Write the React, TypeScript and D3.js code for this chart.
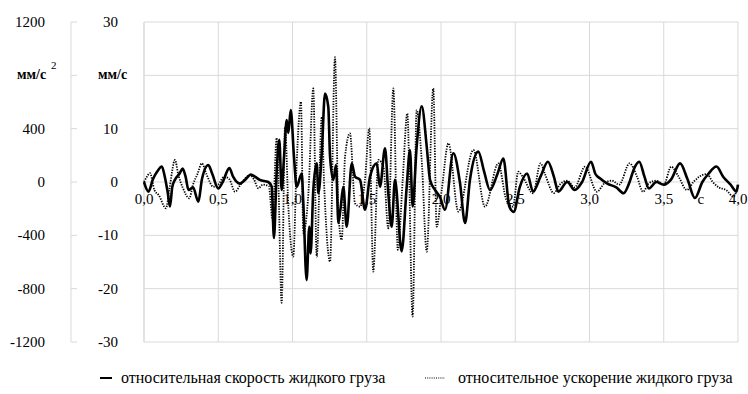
import React from "react";
import * as d3 from "d3";

// time (s) / relative velocity of liquid cargo (mm/s)
const velocityPoints: [number, number][] = [
  [0.0, 0], [0.03, -1.8], [0.06, 0.5], [0.09, 2.0], [0.12, 2.9], [0.14, 1.0], [0.16, -2.0],
  [0.175, -4.6], [0.19, -1.0], [0.21, 0.5], [0.24, 1.6], [0.26, 2.5], [0.28, 1.0], [0.3, -1.5],
  [0.33, -1.0], [0.366, -3.7], [0.39, 0.5], [0.433, 3.2], [0.46, 1.5], [0.5, -1.2], [0.53, 0.0],
  [0.575, 2.6], [0.6, 1.0], [0.646, -0.3], [0.68, 0.4], [0.72, 1.4], [0.747, 1.0], [0.78, 0.4],
  [0.837, 0.0], [0.86, -0.9], [0.875, -10.5], [0.893, 1.6], [0.911, 7.9], [0.927, -1.5],
  [0.943, 4.7], [0.961, 11.6], [0.972, 9.2], [0.988, 13.5], [1.01, 4.7], [1.028, -0.9],
  [1.062, 1.6], [1.073, -4.0], [1.095, -18.4], [1.113, -8.4], [1.122, -13.4], [1.14, -1.5],
  [1.163, 3.5], [1.174, -2.1], [1.197, 5.4], [1.219, 16.6], [1.241, 14.1], [1.253, 4.7],
  [1.275, 0.4], [1.293, 3.2], [1.309, -7.7], [1.325, -4.6], [1.342, -0.9], [1.365, -8.4],
  [1.399, 3.5], [1.421, 1.0], [1.455, 0.4], [1.488, -5.2], [1.522, 1.0], [1.567, 3.5],
  [1.589, -0.9], [1.623, 6.3], [1.645, -2.1], [1.668, -8.4], [1.69, 0.4], [1.735, -13.0],
  [1.769, -0.9], [1.791, 6.0], [1.809, -4.6], [1.836, 6.6], [1.87, 14.2], [1.904, 6.6],
  [1.926, 0.4], [1.96, -1.5], [1.993, -2.8], [2.027, -5.2], [2.083, 5.4], [2.128, -0.2],
  [2.162, -7.7], [2.195, 0.4], [2.251, 5.7], [2.29, 2.0], [2.33, -1.5], [2.38, 1.5],
  [2.42, 4.4], [2.46, -4.6], [2.49, -5.6], [2.53, -1.0], [2.58, 1.6], [2.62, -1.8],
  [2.67, 1.0], [2.72, 3.8], [2.76, 1.0], [2.79, -1.8], [2.85, 0.0], [2.9, -1.5], [2.95, 0.0],
  [3.01, 3.8], [3.04, 1.5], [3.07, 0.7], [3.12, -0.3], [3.18, -1.0], [3.23, -2.1], [3.27, 0.0],
  [3.3, 2.5], [3.335, 3.8], [3.37, 1.0], [3.4, -1.2], [3.45, 0.0], [3.5, -0.5], [3.55, 0.5],
  [3.61, 3.5], [3.66, 0.5], [3.71, -3.0], [3.76, 0.0], [3.8, 1.5], [3.855, 2.9], [3.9, 1.0],
  [3.95, -0.5], [3.99, -1.8], [4.0, -0.5],
];

// time (s) / relative acceleration of liquid cargo (mm/s^2)
const accelerationPoints: [number, number][] = [
  [0.0, 0], [0.02, 40], [0.04, 67], [0.07, -60], [0.1, -100], [0.148, -197], [0.17, -60],
  [0.209, 165], [0.23, 60], [0.26, -40], [0.305, -122], [0.33, -20], [0.36, 60], [0.39, 140],
  [0.42, 60], [0.467, -35], [0.5, -20], [0.54, 40], [0.575, 20], [0.613, -73], [0.65, -20],
  [0.714, 52], [0.74, 20], [0.77, -47], [0.8, -20], [0.84, -30], [0.866, -285], [0.893, 330],
  [0.905, 0], [0.927, -906], [0.95, 414], [0.972, -185], [1.005, -560], [1.028, 140],
  [1.057, 601], [1.073, -384], [1.107, -85], [1.14, 702], [1.163, -560], [1.197, 489],
  [1.212, 15], [1.253, -597], [1.286, 936], [1.309, -234], [1.331, -434], [1.354, 190],
  [1.387, 365], [1.421, -160], [1.455, -185], [1.488, 15], [1.517, 402], [1.544, -672],
  [1.578, 165], [1.612, 115], [1.645, -347], [1.679, 702], [1.709, -509], [1.742, 15],
  [1.773, 514], [1.809, -1009], [1.836, 539], [1.87, 165], [1.904, -522], [1.948, 702],
  [1.971, -335], [2.005, -60], [2.05, 290], [2.117, -222], [2.218, 240], [2.296, -185],
  [2.386, 140], [2.44, -135], [2.485, -185], [2.52, 77], [2.55, 40], [2.62, -85], [2.67, 140],
  [2.7, 60], [2.76, -83], [2.8, -20], [2.85, 10], [2.9, -40], [2.97, 115], [3.05, -73],
  [3.1, -10], [3.15, 10], [3.2, -20], [3.27, 140], [3.32, 40], [3.36, -73], [3.4, -10],
  [3.45, 10], [3.5, -20], [3.55, 115], [3.6, 40], [3.655, -60], [3.7, 0], [3.74, 40],
  [3.79, 60], [3.83, 0], [3.87, -40], [3.92, -60], [3.97, -110], [4.0, -20],
];

// 800 and 20 are not labelled: the unit captions sit there
const accTicks = [1200, 800, 400, 0, -400, -800, -1200];
const velTicks = [30, 20, 10, 0, -10, -20, -30];
const unitTickAcc = 800;
const unitTickVel = 20;
const timeTicks = [0, 0.5, 1, 1.5, 2, 2.5, 3, 3.5, 4];
const timeUnitAt = 3.75;

const seriesNames = [
  "относительная скорость жидкого груза",
  "относительное ускорение жидкого груза",
];

const grid = "#d9d9d9";
const serif = "Liberation Serif";
const txt = { fontFamily: "'Liberation Serif'" };

export default function App() {
  const plot = { left: 144, right: 738, top: 22, bottom: 342 };

  const x = d3.scaleLinear().domain([0, 4]).range([plot.left, plot.right]);
  const yVel = d3.scaleLinear().domain([-30, 30]).range([plot.bottom, plot.top]);
  const yAcc = d3.scaleLinear().domain([-1200, 1200]).range([plot.bottom, plot.top]);

  const velLine = d3
    .line<[number, number]>()
    .x((d) => x(d[0]))
    .y((d) => yVel(d[1]))
    .curve(d3.curveMonotoneX);

  const accLine = d3
    .line<[number, number]>()
    .x((d) => x(d[0]))
    .y((d) => yAcc(d[1]))
    .curve(d3.curveMonotoneX);

  const fmt = (v: number) => v.toFixed(1).replace(".", ",");
  const outerAxisX = 71;

  return (
    <svg width={748} height={394} fontFamily={serif} style={{ position: "absolute", left: 0, top: 0, background: "#fff" }}>
      {/* grid */}
      {velTicks.map((t) => (
        <line key={"h" + t} x1={plot.left} x2={plot.right} y1={yVel(t)} y2={yVel(t)} stroke={grid} strokeWidth={1} />
      ))}
      {timeTicks.map((t) => (
        <line key={"v" + t} x1={x(t)} x2={x(t)} y1={plot.top} y2={plot.bottom} stroke={grid} strokeWidth={1} />
      ))}

      {/* outer (acceleration) axis */}
      <line x1={outerAxisX} x2={outerAxisX} y1={plot.top} y2={plot.bottom} stroke={grid} />
      {accTicks.map((t) => (
        <g key={"a" + t}>
          <line x1={outerAxisX} x2={outerAxisX + 6} y1={yAcc(t)} y2={yAcc(t)} stroke={grid} />
          {t !== unitTickAcc && (
            <text x={45} y={yAcc(t) + 5} textAnchor="end" fontSize={15} style={txt}>{t}</text>
          )}
        </g>
      ))}
      {/* inner (velocity) axis */}
      <line x1={plot.left} x2={plot.left} y1={plot.top} y2={plot.bottom} stroke={grid} />
      {velTicks
        .filter((t) => t !== unitTickVel)
        .map((t) => (
          <text key={"vt" + t} x={118} y={yVel(t) + 5} textAnchor="end" fontSize={15} style={txt}>{t}</text>
        ))}
      <text x={17} y={yAcc(unitTickAcc) + 4} fontSize={14} fontWeight="bold" style={txt}>мм/с</text>
      <text x={51} y={yAcc(unitTickAcc) - 6} fontSize={11} style={txt}>2</text>
      <text x={98} y={yVel(unitTickVel) + 4} fontSize={14} fontWeight="bold" style={txt}>мм/с</text>

      {/* series */}
      <path d={accLine(accelerationPoints) || ""} fill="none" stroke="#000" strokeWidth={1.8} strokeDasharray="1.3 1.3" />
      <path d={velLine(velocityPoints) || ""} fill="none" stroke="#000" strokeWidth={2.6} strokeLinejoin="round" />

      {/* time labels */}
      {timeTicks.map((t) => (
        <text key={"xt" + t} x={x(t)} y={204} textAnchor="middle" fontSize={15} style={txt}>{fmt(t)}</text>
      ))}
      <text x={x(timeUnitAt)} y={204} textAnchor="middle" fontSize={15} style={txt}>с</text>

      {/* legend */}
      <line x1={100} x2={112} y1={378} y2={378} stroke="#000" strokeWidth={2} />
      <text x={121} y={383} fontSize={16} style={txt}>{seriesNames[0]}</text>
      <line x1={425} x2={445} y1={378} y2={378} stroke="#000" strokeWidth={1.2} strokeDasharray="1 1.2" />
      <text x={458} y={383} fontSize={16} style={txt}>{seriesNames[1]}</text>
    </svg>
  );
}
